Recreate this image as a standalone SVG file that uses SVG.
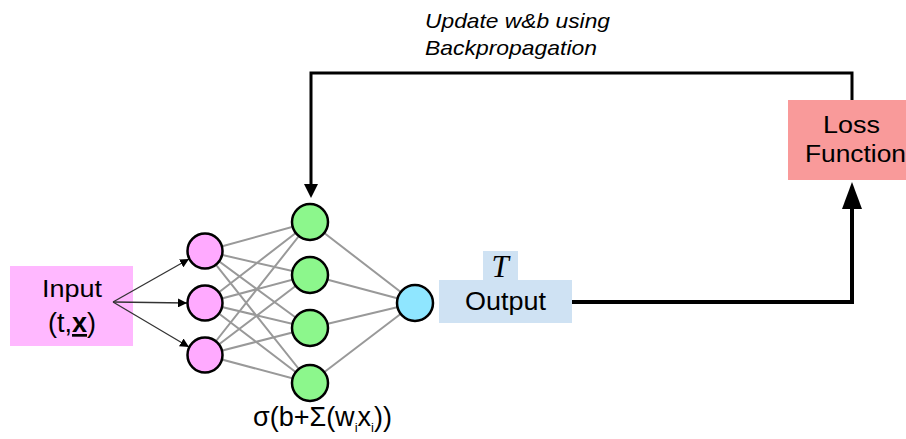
<svg xmlns="http://www.w3.org/2000/svg" width="906" height="439" viewBox="0 0 906 439">
  <defs>
    <style>
      .lbl { font-family: "Liberation Sans", Arial, sans-serif; fill: #000; }
      .note { font-family: "Liberation Sans", Arial, sans-serif; font-style: italic; font-size: 21px; fill: #000; }
      .w { stroke: #999; stroke-width: 2; fill: none; }
      .in { fill: #ffaaff; stroke: #000; stroke-width: 2.5; }
      .hid { fill: #8cf78c; stroke: #000; stroke-width: 2.5; }
      .out { fill: #8fe6ff; stroke: #000; stroke-width: 2.5; }
      .feed { stroke: #000; stroke-width: 3; fill: none; }
      .thin { stroke: #333; stroke-width: 1.3; fill: none; }
    </style>
    <marker id="small" viewBox="0 0 10 10" refX="10" refY="5" markerWidth="9" markerHeight="9" markerUnits="userSpaceOnUse" orient="auto">
      <path d="M0,0 L10,5 L0,10 z" fill="#000"/>
    </marker>
  </defs>

  <!-- input box -->
  <g id="input">
    <rect x="10" y="266" width="123" height="80" fill="#ffb8ff"/>
    <text class="lbl" x="72" y="297" font-size="24" text-anchor="middle" textLength="60" lengthAdjust="spacingAndGlyphs">Input</text>
    <text class="lbl" x="72" y="332" font-size="27" text-anchor="middle">(t,<tspan font-weight="bold" text-decoration="underline">x</tspan>)</text>
  </g>

  <!-- connectors -->
  <g id="connectors">
    <!-- input fan-out -->
    <line class="thin" x1="113" y1="302" x2="189" y2="259" marker-end="url(#small)"/>
    <line class="thin" x1="113" y1="302" x2="187" y2="303" marker-end="url(#small)"/>
    <line class="thin" x1="113" y1="302" x2="189" y2="347" marker-end="url(#small)"/>
    <!-- input layer to hidden layer -->
    <path class="w" d="M205,251 L310,222 M205,251 L310,275 M205,251 L310,328 M205,251 L310,383
                       M205,303 L310,222 M205,303 L310,275 M205,303 L310,328 M205,303 L310,383
                       M205,355 L310,222 M205,355 L310,275 M205,355 L310,328 M205,355 L310,383"/>
    <!-- hidden layer to output neuron -->
    <path class="w" d="M310,222 L415,303 M310,275 L415,303 M310,328 L415,303 M310,383 L415,303"/>
    <!-- output to loss -->
    <path d="M572,302 L852,302 L852,205" stroke="#000" stroke-width="4" fill="none"/>
    <path d="M852,182 L862,209 L842,209 z" fill="#000"/>
    <!-- backpropagation feedback -->
    <path class="feed" d="M852,100 L852,73 L311,73 L311,186"/>
    <path d="M311,198 L304,184 L318,184 z" fill="#000"/>
  </g>

  <!-- neurons -->
  <g id="layer-in">
    <circle class="in" cx="205" cy="251" r="17.5"/>
    <circle class="in" cx="205" cy="303" r="17.5"/>
    <circle class="in" cx="205" cy="355" r="17.5"/>
  </g>
  <g id="layer-hidden">
    <circle class="hid" cx="310" cy="222" r="18"/>
    <circle class="hid" cx="310" cy="275" r="18"/>
    <circle class="hid" cx="310" cy="328" r="18"/>
    <circle class="hid" cx="310" cy="383" r="18"/>
    <text class="lbl" x="253" y="426" font-size="27">σ(b+Σ(w<tspan font-size="13" dy="6">i</tspan><tspan dy="-6">x</tspan><tspan font-size="13" dy="6">i</tspan><tspan dy="-6">))</tspan></text>
  </g>
  <g id="layer-out">
    <circle class="out" cx="415" cy="303" r="18"/>
  </g>

  <!-- output box -->
  <g id="output">
    <rect x="483" y="251" width="35" height="30" fill="#cfe2f3"/>
    <rect x="439" y="280" width="133" height="43" fill="#cfe2f3"/>
    <text x="500" y="277" font-family="Liberation Serif, serif" font-style="italic" font-size="31" text-anchor="middle">T</text>
    <text class="lbl" x="465" y="310" font-size="25" textLength="81" lengthAdjust="spacingAndGlyphs">Output</text>
  </g>

  <!-- loss box -->
  <g id="loss">
    <rect x="788" y="100" width="118" height="80" fill="#f99a9a"/>
    <text class="lbl" x="823" y="133" font-size="23" textLength="57" lengthAdjust="spacingAndGlyphs">Loss</text>
    <text class="lbl" x="805" y="162" font-size="23" textLength="101" lengthAdjust="spacingAndGlyphs">Function</text>
  </g>

  <!-- feedback label -->
  <g id="feedback-label">
    <text class="note" x="425" y="28" textLength="185" lengthAdjust="spacingAndGlyphs">Update w&amp;b using</text>
    <text class="note" x="425" y="55" textLength="172" lengthAdjust="spacingAndGlyphs">Backpropagation</text>
  </g>
</svg>
